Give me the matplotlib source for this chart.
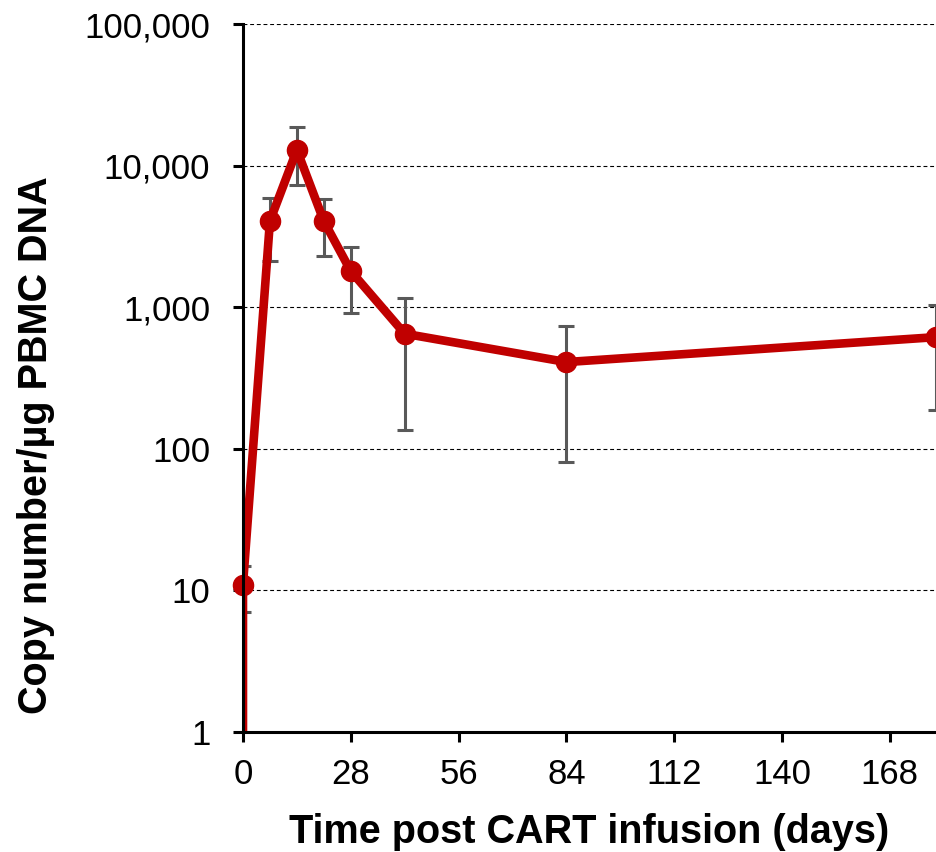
#!/usr/bin/env python3
"""CART transgene copy number in PBMC DNA over time after infusion (log scale)."""
import matplotlib
matplotlib.use("Agg")
import matplotlib.pyplot as plt
from matplotlib.ticker import FixedLocator, FuncFormatter, NullLocator

# first entry is the pre-infusion baseline (below detection, drawn off-scale)
days = [0, 0, 7, 14, 21, 28, 42, 84, 180]
copies = [0.2, 11, 4060, 12900, 4060, 1800, 650, 410, 615]
err_low = [None, 7, 2120, 7300, 2300, 910, 136, 81, 188]
err_high = [None, 15, 5900, 18700, 5800, 2660, 1160, 736, 1040]

x_ticks = [0, 28, 56, 84, 112, 140, 168]
y_ticks = [1, 10, 100, 1000, 10000, 100000]

RED = "#C00000"
GREY = "#595959"

plt.rcParams["font.family"] = ["Liberation Sans", "DejaVu Sans"]

fig = plt.figure(figsize=(9.36, 8.52), dpi=100)
ax = fig.add_axes([0.2596, 0.1408, 0.7404, 0.8310])

# error bars (behind the line)
keep = [i for i, e in enumerate(err_low) if e is not None]
ex = [days[i] for i in keep]
ey = [copies[i] for i in keep]
lo = [copies[i] - err_low[i] for i in keep]
hi = [err_high[i] - copies[i] for i in keep]
ax.errorbar(ex, ey, yerr=[lo, hi], fmt="none", ecolor=GREY, elinewidth=2.2,
            capsize=6, capthick=2.2, zorder=2)

ax.plot(days, copies, color=RED, lw=6.2, solid_joinstyle="round", zorder=3)
mx = [d for d, v in zip(days, copies) if v >= 1]
my = [v for v in copies if v >= 1]
ax.plot(mx, my, ls="none", marker="o", ms=14.5, color=RED, zorder=4, clip_on=False)

ax.set_yscale("log")
ax.set_ylim(1, 100000)
ax.set_xlim(0, 180)
ax.yaxis.set_major_locator(FixedLocator(y_ticks))
ax.yaxis.set_minor_locator(NullLocator())
ax.yaxis.set_major_formatter(FuncFormatter(lambda v, _p: f"{v:,.0f}"))
ax.set_xticks(x_ticks)

ax.grid(axis="y", color="black", ls=(0, (3.5, 2.5)), lw=0.8)
ax.set_axisbelow(True)
for s in ("top", "right"):
    ax.spines[s].set_visible(False)
for s in ("left", "bottom"):
    ax.spines[s].set_linewidth(2.2)
    ax.spines[s].set_zorder(5)

ax.tick_params(axis="both", labelsize=25, width=2.2, length=7.5, direction="out")
ax.tick_params(axis="x", pad=11)
ax.tick_params(axis="y", pad=16)

ax.set_xlabel("Time post CART infusion (days)", fontsize=28.5, fontweight="bold", labelpad=16)
ax.set_ylabel("Copy number/µg PBMC DNA", fontsize=28.5, fontweight="bold")
ax.yaxis.set_label_coords(-0.271, 0.405)

fig.savefig("out.png", dpi=100)
